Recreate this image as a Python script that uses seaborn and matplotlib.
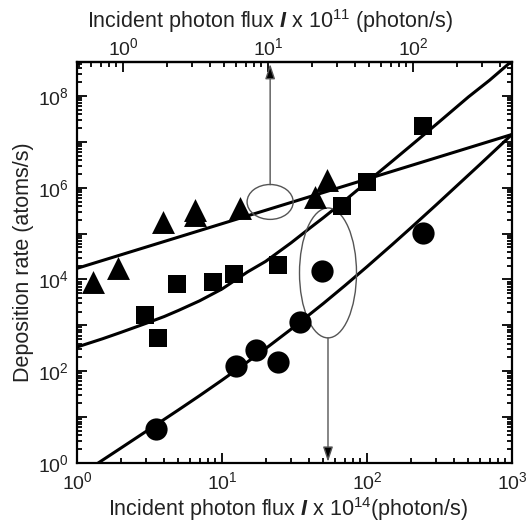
import numpy as np
import pandas as pd
import matplotlib
matplotlib.use('Agg')
import matplotlib.pyplot as plt
import seaborn as sns
from matplotlib.patches import Ellipse
from matplotlib.ticker import LogLocator, FuncFormatter, NullFormatter, FixedLocator

# ---- data ----
tri_x = [1.29, 1.92, 3.92, 6.5, 6.5, 13.3, 43.8, 53]
tri_y = [8.9e3, 1.8e4, 1.8e5, 3.3e5, 2.5e5, 3.7e5, 6.4e5, 1.5e6]
sq_x = [2.94, 3.62, 4.9, 8.7, 12.1, 24.3, 67, 100, 243]
sq_y = [1.7e3, 5.4e2, 8.1e3, 8.9e3, 1.3e4, 2.1e4, 3.9e5, 1.3e6, 2.2e7]
cir_x = [3.5, 12.5, 17.2, 24.3, 34.5, 49, 243]
cir_y = [5.5, 1.3e2, 2.9e2, 1.6e2, 1.2e3, 1.5e4, 1.05e5]

# fitted curves
fit_tri_x = [1, 1000]
fit_tri_y = [1.75e4, 1.45e7]
fit_sq_x = [1, 1.5, 2, 3, 4, 5, 7, 10, 15, 20, 30, 40, 50, 70, 100, 150, 200, 300, 500, 700, 1000]
fit_sq_y = [337, 510, 700, 1110, 1560, 2110, 3420, 6200, 1.46e4, 2.48e4, 6.32e4, 1.29e5, 2.22e5,
            5.2e5, 1.33e6, 3.84e6, 8.2e6, 2.4e7, 9.5e7, 2.2e8, 5.8e8]
fit_cir_x = [1.4, 2, 3, 5, 7, 10, 15, 20, 30, 50, 70, 100, 150, 200, 300, 400, 600, 1000]
fit_cir_y = [1.0, 2.1, 4.9, 14.3, 29.3, 64, 160, 312, 828, 3000, 7250, 1.9e4, 5.85e4, 1.32e5,
             4.23e5, 9.8e5, 3.2e6, 1.45e7]

x_ticks = [1, 10, 100, 1000]
top_ticks = [1, 10, 100]
top_factor = 2.08  # bottom-axis value per top-axis unit

sns.set_style('white')
plt.rcParams['font.family'] = ['Liberation Sans', 'DejaVu Sans']
plt.rcParams['mathtext.fontset'] = 'custom'
plt.rcParams['mathtext.rm'] = 'Liberation Sans'
plt.rcParams['mathtext.it'] = 'Liberation Sans:italic'
plt.rcParams['mathtext.bf'] = 'Liberation Sans:bold'
plt.rcParams['mathtext.bfit'] = 'Liberation Sans:bold:italic'
txt = '#222222'
plt.rcParams['text.color'] = txt
plt.rcParams['axes.labelcolor'] = txt

fig = plt.figure(figsize=(5.27, 5.26), dpi=100)
ax = fig.add_axes([77/527, 1-463/526, 435/527, 401/526])
ax.set_xscale('log')
ax.set_yscale('log')
ax.set_xlim(1, 1000)
ax.set_ylim(1, 5.5e8)

lw = 2.2
sns.lineplot(x=fit_tri_x, y=fit_tri_y, ax=ax, color='black', lw=lw, sort=False, estimator=None)
sns.lineplot(x=fit_sq_x, y=fit_sq_y, ax=ax, color='black', lw=lw, sort=False, estimator=None)
sns.lineplot(x=fit_cir_x, y=fit_cir_y, ax=ax, color='black', lw=lw, sort=False, estimator=None)

sns.scatterplot(x=tri_x, y=tri_y, ax=ax, marker='^', s=16.5**2, color='black', edgecolor='black', linewidth=0, zorder=5)
sns.scatterplot(x=sq_x, y=sq_y, ax=ax, marker='s', s=13.5**2, color='black', edgecolor='black', linewidth=0, zorder=5)
sns.scatterplot(x=cir_x, y=cir_y, ax=ax, marker='o', s=16**2, color='black', edgecolor='black', linewidth=0, zorder=5)

# annotations (ellipses + arrows), in axes fraction
gray = '#555555'
ax.add_patch(Ellipse((0.444, 0.651), 0.106, 0.087, transform=ax.transAxes,
                     fill=False, edgecolor=gray, lw=1.0, zorder=3))
ax.add_patch(Ellipse((0.577, 0.474), 0.131, 0.324, transform=ax.transAxes,
                     fill=False, edgecolor=gray, lw=1.0, zorder=3))
ax.annotate('', xy=(0.444, 0.995), xytext=(0.444, 0.694), xycoords='axes fraction',
            arrowprops=dict(arrowstyle='-|>,head_length=0.9,head_width=0.3', color=gray, lw=1.0,
                            fc='black', ec=gray, shrinkA=0, shrinkB=0))
ax.annotate('', xy=(0.577, 0.003), xytext=(0.577, 0.312), xycoords='axes fraction',
            arrowprops=dict(arrowstyle='-|>,head_length=0.9,head_width=0.3', color=gray, lw=1.0,
                            fc='black', ec=gray, shrinkA=0, shrinkB=0))

# ticks
for s in ax.spines.values():
    s.set_linewidth(1.6)
    s.set_color('black')
ax.xaxis.set_major_locator(FixedLocator(x_ticks))
ax.xaxis.set_minor_locator(LogLocator(base=10, subs=np.arange(2, 10), numticks=20))
ax.xaxis.set_minor_formatter(NullFormatter())
ax.yaxis.set_major_locator(LogLocator(base=10, subs=(1.0,), numticks=20))
ax.yaxis.set_minor_locator(LogLocator(base=10, subs=np.arange(2, 10), numticks=40))

def pow_fmt(v, pos):
    e = int(round(np.log10(v)))
    return r'$\mathdefault{10^{%d}}$' % e

def yfmt(v, pos):
    e = int(round(np.log10(v)))
    return r'$\mathdefault{10^{%d}}$' % e if e % 2 == 0 else ''
ax.xaxis.set_major_formatter(FuncFormatter(pow_fmt))
ax.yaxis.set_major_formatter(FuncFormatter(yfmt))
ax.yaxis.set_minor_formatter(NullFormatter())
ax.tick_params(which='both', direction='in', top=False, right=True, bottom=True, left=True,
               colors='black', labelcolor=txt, labelsize=14, width=1.3)
ax.tick_params(which='major', length=7, pad=6)
ax.tick_params(which='minor', length=3.5)

sec = ax.secondary_xaxis('top', functions=(lambda x: x / top_factor, lambda x: x * top_factor))
sec.xaxis.set_major_locator(FixedLocator(top_ticks))
sec.xaxis.set_major_formatter(FuncFormatter(pow_fmt))
sec.xaxis.set_minor_locator(LogLocator(base=10, subs=np.arange(2, 10), numticks=20))
sec.xaxis.set_minor_formatter(NullFormatter())
sec.tick_params(which='both', direction='in', labelsize=14, width=1.3, colors='black', labelcolor=txt)
sec.tick_params(which='major', length=7, pad=2)
sec.tick_params(which='minor', length=3.5)
sec.spines['top'].set_linewidth(1.6)
sec.set_xlabel(r'Incident photon flux $\mathbfit{I}$ x 10$^{11}$ (photon/s)', fontsize=15.5, labelpad=7)
sec.xaxis.label.set_x(0.444)

ax.set_xlabel(r'Incident photon flux $\mathbfit{I}$ x 10$^{14}$(photon/s)', fontsize=15.5, labelpad=1)
ax.xaxis.label.set_x(0.485)
ax.set_ylabel('Deposition rate (atoms/s)', fontsize=15.5, labelpad=3)

fig.savefig('out.png', dpi=100)
